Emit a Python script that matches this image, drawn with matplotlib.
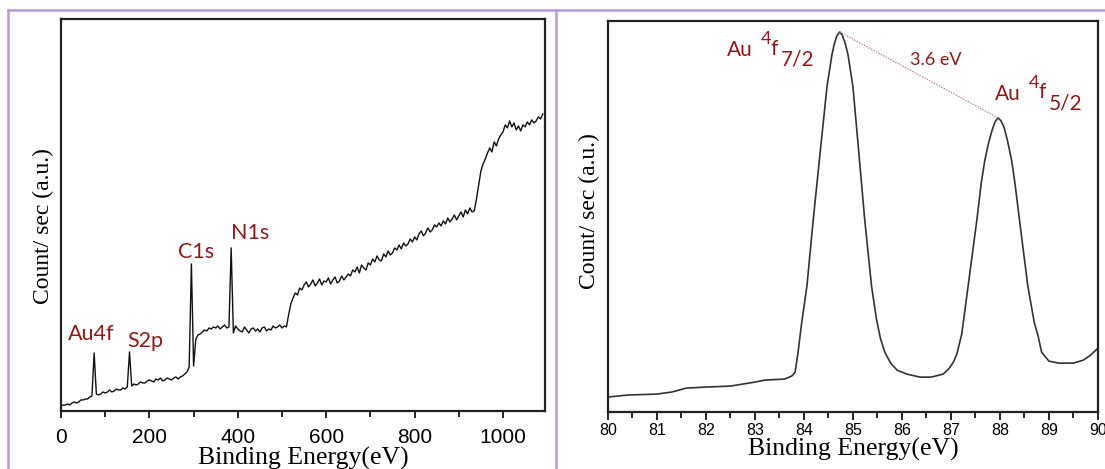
import numpy as np
import matplotlib
matplotlib.use("Agg")
import matplotlib.pyplot as plt
from matplotlib.lines import Line2D
from matplotlib.ticker import MultipleLocator

# survey scan, 5 eV steps
survey_ev = list(range(0, 1095, 5))
survey_counts = [
    5, 6, 6, 7, 6, 8, 9, 8, 9, 11,
    11, 12, 12, 14, 15, 58, 17, 16, 17, 19,
    18, 19, 21, 19, 20, 22, 21, 21, 23, 22,
    24, 59, 25, 27, 26, 27, 29, 28, 28, 30,
    31, 30, 29, 32, 31, 33, 30, 31, 33, 32,
    31, 33, 34, 32, 34, 35, 37, 39, 44, 147,
    45, 72, 76, 77, 79, 81, 80, 83, 82, 84,
    83, 85, 82, 84, 86, 83, 84, 163, 78, 85,
    82, 80, 79, 84, 81, 78, 82, 83, 80, 82,
    79, 83, 84, 80, 82, 81, 85, 83, 84, 86,
    83, 85, 84, 96, 107, 113, 118, 116, 123, 121,
    126, 129, 124, 127, 131, 125, 128, 132, 126, 130,
    129, 133, 127, 131, 134, 128, 130, 135, 131, 134,
    137, 135, 141, 139, 144, 138, 146, 143, 141, 148,
    146, 152, 149, 155, 151, 150, 157, 154, 160, 156,
    158, 163, 161, 166, 162, 168, 165, 167, 172, 169,
    174, 171, 177, 180, 175, 178, 183, 179, 181, 186,
    184, 188, 185, 190, 187, 193, 189, 192, 196, 191,
    195, 199, 194, 201, 197, 203, 199, 200, 212, 226,
    240, 247, 252, 258, 263, 259, 269, 265, 272, 276,
    279, 286, 283, 290, 284, 288, 281, 285, 280, 286,
    284, 289, 286, 291, 288, 290, 294, 292, 297,
]
survey_peaks = ["Au4f", "S2p", "C1s", "N1s"]
survey_peak_pos = [(15, 71), (151, 64), (264, 153), (384, 172)]

# Au 4f high resolution scan
au_ev = [80.0, 80.4, 81.0, 81.3, 81.6, 82.0, 82.5, 83.0, 83.2, 83.6,
         83.75, 83.82, 83.88, 83.95, 84.06, 84.19, 84.33, 84.47, 84.57, 84.62,
         84.67, 84.73, 84.78, 84.84, 84.9, 85.0, 85.12, 85.24, 85.38, 85.48,
         85.56, 85.65, 85.77, 85.9, 86.1, 86.37, 86.6, 86.84, 86.95, 87.05,
         87.12, 87.22, 87.35, 87.53, 87.62, 87.69, 87.76, 87.83, 87.9, 87.96,
         88.02, 88.08, 88.15, 88.24, 88.31, 88.39, 88.57, 88.7, 88.78, 88.85,
         89.0, 89.2, 89.5, 89.7, 89.85, 90.0]
au_counts = [15, 17, 18, 20, 24, 25, 26, 30, 32, 33,
             36, 40, 60, 88, 126, 193, 260, 326, 358, 369,
             377, 381, 378, 370, 358, 326, 260, 193, 126, 93,
             74, 60, 49, 42, 38, 35, 35, 38, 43, 50,
             58, 78, 126, 193, 230, 252, 268, 281, 291, 295,
             292, 286, 273, 252, 228, 196, 126, 90, 76, 60,
             51, 49, 49, 52, 57, 64]
split_label = "3.6 eV"

red = "#8b1a1a"
sans = "Liberation Sans"
serif = "Liberation Serif"
note_font = ["Lato", "DejaVu Sans"]

fig = plt.figure(figsize=(11.05, 4.69), dpi=100)
ax1 = fig.add_axes([0.0552, 0.1237, 0.438, 0.836])
ax2 = fig.add_axes([0.5502, 0.1215, 0.4434, 0.8337])

# survey
ax1.plot(survey_ev, survey_counts, color="#111111", lw=1.0)
ax1.set_xlim(0, 1095)
ax1.set_ylim(0, 392)
ax1.xaxis.set_major_locator(MultipleLocator(200))
ax1.xaxis.set_minor_locator(MultipleLocator(100))
ax1.tick_params(axis="x", which="major", direction="out", length=5,
                width=1.2, pad=7, labelsize=15)
ax1.tick_params(axis="x", which="minor", direction="out", length=4, width=1.2)
for lab in ax1.get_xticklabels():
    lab.set_fontfamily(sans)
for name, (x, y) in zip(survey_peaks, survey_peak_pos):
    ax1.text(x, y, name, color=red, fontsize=15.5, family=note_font,
             ha="left", va="baseline")

# Au 4f region
ax2.plot(au_ev, au_counts, color="#333333", lw=1.2)
ax2.set_xlim(80, 90)
ax2.set_ylim(0, 392)
ax2.xaxis.set_major_locator(MultipleLocator(1))
ax2.xaxis.set_minor_locator(MultipleLocator(0.5))
ax2.tick_params(axis="x", which="major", direction="out", length=6,
                width=1.2, pad=2, labelsize=11.5)
ax2.tick_params(axis="x", which="minor", direction="out", length=4, width=1.2)
for lab in ax2.get_xticklabels():
    lab.set_fontfamily(sans)

# dotted tie line between the two spin-orbit maxima
i1 = au_counts.index(max(au_counts))
i2 = au_ev.index(87.96)
ax2.plot([au_ev[i1], au_ev[i2]], [au_counts[i1], au_counts[i2]],
         color="#c0707a", lw=0.9, ls=(0, (1, 1.2)))
ax2.text(86.16, 348, split_label, color=red, fontsize=13,
         family=note_font, ha="left", va="baseline")


def orbital_label(ax, x, y, sub):
    # "Au 4f" with a raised 4 and a lowered j subscript, one piece at a time
    kw = dict(color=red, family=note_font, ha="left", va="baseline",
              textcoords="offset points")
    ax.annotate("Au", (x, y), xytext=(0, 0), fontsize=15, **kw)
    ax.annotate("4", (x, y), xytext=(24, 8.6), fontsize=13, **kw)
    ax.annotate("f", (x, y), xytext=(31, 1), fontsize=15, **kw)
    ax.annotate(sub, (x, y), xytext=(38.5, -7), fontsize=15, **kw)


orbital_label(ax2, 82.43, 357, "7/2")
orbital_label(ax2, 87.9, 313, "5/2")

for ax in (ax1, ax2):
    ax.set_yticks([])
    for sp in ax.spines.values():
        sp.set_linewidth(1.6)
        sp.set_color("#222222")
    ax.set_xlabel("Binding Energy(eV)", family=serif, fontsize=18.5,
                  labelpad=0)
    ax.set_ylabel("Count/ sec (a.u.)", family=serif, fontsize=17)

ax1.yaxis.set_label_coords(-0.0145, 0.472)
ax2.yaxis.set_label_coords(-0.016, 0.515)

# light purple panel frame
W, H = 1105.0, 469.0
frame = "#b89ad8"
for xs, ys in [((8, 1105), (10, 10)), ((8, 8), (10, 469)),
               ((556, 556), (10, 469))]:
    fig.add_artist(Line2D([x / W for x in xs], [1 - y / H for y in ys],
                          transform=fig.transFigure, color=frame, lw=1.8))

fig.savefig("out.png", dpi=100)
